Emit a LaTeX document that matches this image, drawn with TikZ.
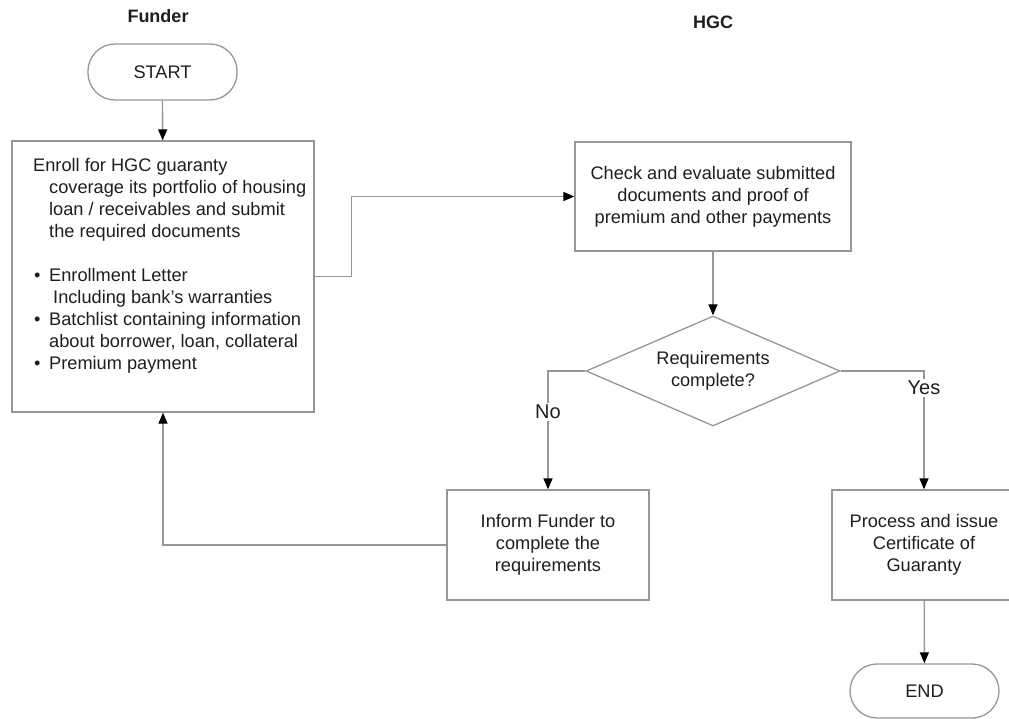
\documentclass[tikz,border=0pt]{standalone}
\usepackage{fontspec}
\setmainfont{Liberation Sans}
\usetikzlibrary{arrows.meta,shapes.geometric}
\definecolor{linegray}{RGB}{150,150,150}
\definecolor{textc}{RGB}{30,30,30}
\begin{document}
\begin{tikzpicture}[x=1pt,y=-1pt,
  line/.style={draw=linegray, line width=1.3pt},
  arr/.style={line, -{Triangle[width=9pt,length=11pt,color=black,fill=black]}},
  txt/.style={inner sep=0pt, text=textc, font=\fontsize{18.2}{22}\selectfont},
  box/.style={txt, draw=linegray, line width=1.3pt, rectangle, align=center},
  term/.style={box, rounded corners=27pt},
  dec/.style={txt, draw=linegray, line width=1.3pt, shape=diamond, aspect=2.3, align=center},
  title/.style={inner sep=0pt, text=textc, font=\fontsize{18}{22}\selectfont\bfseries},
  lbl/.style={txt, fill=white, inner sep=2pt, font=\fontsize{20}{24}\selectfont}
]
\useasboundingbox (0,0) rectangle (1009,719);
\clip (0,0) rectangle (1009,719);

\node[title] (funder) at (158,16) {Funder};
\node[title] (hgc) at (713,22) {HGC};

\node[term, minimum width=149pt, minimum height=56pt] (start) at (162.5,72) {START};
\node[box, minimum width=302pt, minimum height=271pt] (enroll) at (163,276.5) {};
\node[txt, anchor=north west, align=left] (enrolltxt) at (33,158) {Enroll for HGC guaranty\\
\hspace*{16pt}coverage its portfolio of housing\\
\hspace*{16pt}loan / receivables and submit\\
\hspace*{16pt}the required documents\\[22pt]
\makebox[16pt][l]{\hspace*{1pt}\textbullet}Enrollment Letter\\
\hspace*{20pt}Including bank's warranties\\
\makebox[16pt][l]{\hspace*{1pt}\textbullet}Batchlist containing information\\
\hspace*{16pt}about borrower, loan, collateral\\
\makebox[16pt][l]{\hspace*{1pt}\textbullet}Premium payment};

\node[box, minimum width=276pt, minimum height=109pt] (check) at (713,196.5) {Check and evaluate submitted\\documents and proof of\\premium and other payments};
\node[dec, minimum width=254pt, minimum height=110pt] (decide) at (713,371) {Requirements\\complete?};
\node[box, minimum width=202pt, minimum height=110pt] (inform) at (548,545) {Inform Funder to\\complete the\\requirements};
\node[box, minimum width=184pt, minimum height=110pt] (proc) at (924,545) {Process and issue\\Certificate of\\Guaranty};
\node[term, minimum width=149pt, minimum height=54pt] (endn) at (924.5,691) {END};

\draw[arr] (start) -- (enroll);
\draw[arr] (enroll.east) -- ++(37,0) |- (check.west);
\draw[arr] (check) -- (decide);
\draw[arr] (decide.west) -| node[lbl, pos=0.672] {No} (inform.north);
\draw[arr] (decide.east) -| node[lbl, pos=0.571] {Yes} (proc.north);
\draw[arr] (inform.west) -| (enroll.south);
\draw[arr] (proc) -- (endn);
\end{tikzpicture}
\end{document}
